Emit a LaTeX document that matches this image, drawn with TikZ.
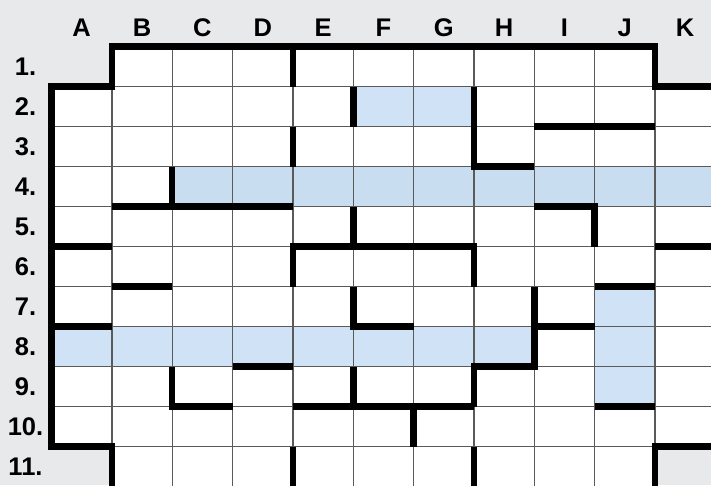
\documentclass[tikz,border=0pt]{standalone}
\usepackage{fontspec}
\setmainfont{Liberation Sans}
\definecolor{bggray}{HTML}{E8E9EB}
\definecolor{gridgray}{HTML}{5A5A5A}
\definecolor{hlblue}{HTML}{D0E3F6}
\definecolor{hlbluedark}{HTML}{C9DDF0}
\begin{document}
\begin{tikzpicture}[x=60.35pt,y=-40pt,
  cellbox/.style={fill=white,draw=gridgray,line width=1.3pt},
  hlcell/.style={fill=hlblue,draw=gridgray,line width=1.3pt},
  hlcelldark/.style={fill=hlbluedark,draw=gridgray,line width=1.3pt},
  wall/.style={line width=6.5pt,line cap=butt,line join=miter,black},
  lab/.style={font=\fontsize{25.5}{25.5}\selectfont\bfseries,inner sep=0pt}]
\useasboundingbox[fill=bggray] (-51.5pt,46.7pt) rectangle (659.5pt,-438.3pt);
% white cells
\foreach \c in {1,...,9}{
  \draw[cellbox] (\c,0) rectangle ++(1,1);
  \draw[cellbox] (\c,10) rectangle ++(1,1);
}
\foreach \r in {1,...,9}{\foreach \c in {0,...,10}{
  \draw[cellbox] (\c,\r) rectangle ++(1,1);
}}
% highlighted cells
\foreach \c in {5,6}{\draw[hlcell] (\c,1) rectangle ++(1,1);}
\foreach \c in {2,...,10}{\draw[hlcelldark] (\c,3) rectangle ++(1,1);}
\foreach \c in {0,...,7}{\draw[hlcell] (\c,7) rectangle ++(1,1);}
\foreach \r in {6,7,8}{\draw[hlcell] (9,\r) rectangle ++(1,1);}
% outline walls
\draw[wall] (1,11.2) -- (1,10) -- (0,10) -- (0,1) -- (1,1) -- (1,0) -- (10,0) -- (10,1) -- (11.2,1);
\draw[wall] (10,11.2) -- (10,10) -- (11.2,10);
% interior walls
\draw[wall] (4,0) -- (4,1);
\draw[wall] (5,1) -- (5,2);
\draw[wall] (7,1) -- (7,3) -- (8,3);
\draw[wall] (8,2) -- (10,2);
\draw[wall] (4,2) -- (4,3);
\draw[wall] (2,3) -- (2,4);
\draw[wall] (1,4) -- (4,4);
\draw[wall] (8,4) -- (9,4) -- (9,5);
\draw[wall] (5,4) -- (5,5);
\draw[wall] (0,5) -- (1,5);
\draw[wall] (4,6) -- (4,5) -- (7,5) -- (7,6);
\draw[wall] (10,5) -- (11.2,5);
\draw[wall] (1,6) -- (2,6);
\draw[wall] (9,6) -- (10,6);
\draw[wall] (5,6) -- (5,7) -- (6,7);
\draw[wall] (7,9) -- (7,8) -- (8,8) -- (8,6);
\draw[wall] (8,7) -- (9,7);
\draw[wall] (0,7) -- (1,7);
\draw[wall] (3,8) -- (4,8);
\draw[wall] (2,8) -- (2,9) -- (3,9);
\draw[wall] (5,8) -- (5,9);
\draw[wall] (4,9) -- (7,9);
\draw[wall] (9,9) -- (10,9);
\draw[wall] (6,9) -- (6,10);
\draw[wall] (4,10) -- (4,11.2);
\draw[wall] (7,10) -- (7,11.2);
% column labels
\foreach \l [count=\i from 0] in {A,B,C,D,E,F,G,H,I,J,K}{
  \node[lab,anchor=base] (col\l) at ([yshift=10.7pt]\i+0.5,0) {\l};
}
% row labels
\foreach \r in {1,...,11}{
  \node[lab] (row\r) at ([xshift=-26pt]0,\r-0.5) {\r.};
}
\end{tikzpicture}
\end{document}
